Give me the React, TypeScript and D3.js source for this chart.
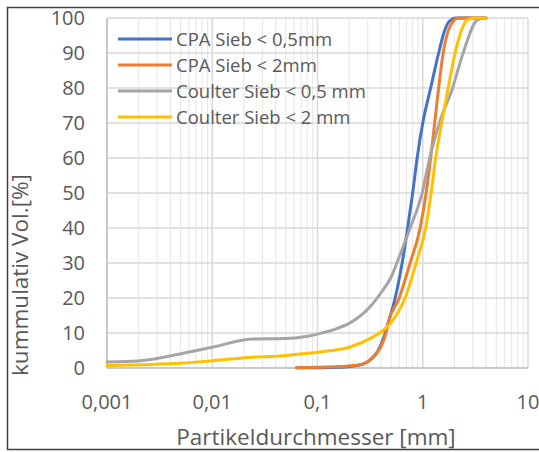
import * as d3 from "d3";

const seriesNames = ["CPA Sieb < 0,5mm", "CPA Sieb < 2mm", "Coulter Sieb < 0,5 mm", "Coulter Sieb < 2 mm"];
const seriesColors = ["#4472C4", "#ED7D31", "#A5A5A5", "#FFC000"];

// [Partikeldurchmesser mm, kummulativ %]
const cpa05: [number, number][] = [
  [0.063, 0.1], [0.1, 0.1], [0.164, 0.2], [0.228, 0.6], [0.3, 1.8], [0.377, 5], [0.43, 9],
  [0.47, 13], [0.547, 20], [0.637, 30], [0.719, 40], [0.802, 50], [0.885, 60], [1.0, 70],
  [1.189, 80], [1.416, 90], [1.597, 96], [1.782, 99], [2.08, 100], [4.0, 100],
];
const cpa2: [number, number][] = [
  [0.063, 0.1], [0.1, 0.2], [0.16, 0.4], [0.254, 0.9], [0.33, 2.9], [0.394, 5.7], [0.449, 10],
  [0.47, 12.8], [0.597, 20], [0.759, 30], [0.944, 40], [1.077, 50], [1.189, 60], [1.298, 70],
  [1.416, 80], [1.563, 90], [1.782, 97], [2.17, 100], [4.0, 100],
];
const coulter05: [number, number][] = [
  [0.001, 1.7], [0.002, 2.0], [0.0053, 4.2], [0.0102, 6], [0.0244, 8.3], [0.05, 8.4],
  [0.075, 8.9], [0.106, 9.9], [0.15, 11.2], [0.204, 12.9], [0.316, 17.5], [0.402, 21.5],
  [0.501, 26], [0.584, 31], [0.759, 40], [0.987, 50], [1.163, 60], [1.44, 70], [1.92, 80],
  [2.42, 90], [3.29, 99.4], [3.92, 100],
];
const coulter2: [number, number][] = [
  [0.001, 0.7], [0.0053, 1.4], [0.0102, 2.1], [0.0244, 3.1], [0.044, 3.4], [0.068, 4.0],
  [0.106, 4.6], [0.204, 6], [0.338, 8.9], [0.411, 10.5], [0.559, 15], [0.68, 20], [0.865, 30],
  [1.066, 40], [1.202, 50], [1.326, 60], [1.512, 70], [1.744, 80], [2.03, 90], [2.37, 97],
  [2.64, 99.4], [3.08, 100], [4.0, 100],
];
const seriesData = [cpa05, cpa2, coulter05, coulter2];

const xTicks = [0.001, 0.01, 0.1, 1, 10];
const xTickLabels = ["0,001", "0,01", "0,1", "1", "10"];
const yTicks = [0, 10, 20, 30, 40, 50, 60, 70, 80, 90, 100];

const FONT = "'Open Sans', sans-serif";

export default function App() {
  const W = 539;
  const H = 452;
  const M = { left: 107, right: 528, top: 18, bottom: 368 };

  const x = d3.scaleLog().domain([0.001, 10]).range([M.left, M.right]);
  const y = d3.scaleLinear().domain([0, 100]).range([M.bottom, M.top]);

  const minor: number[] = [];
  for (let e = -3; e < 1; e++) {
    for (let k = 2; k <= 9; k++) minor.push(k * Math.pow(10, e));
  }

  const line = d3
    .line<[number, number]>()
    .x((d) => x(d[0]))
    .y((d) => y(d[1]))
    .curve(d3.curveMonotoneX);

  return (
    <svg
      width={W}
      height={H}
      style={{ position: "absolute", left: 0, top: 0, background: "#fff" }}
      fontFamily={FONT}
    >
      <rect x={7.5} y={7.5} width={W} height={442} fill="#fff" stroke="#404040" strokeWidth={1.5} />

      {/* minor gridlines */}
      {minor.map((v) => (
        <line key={"m" + v} x1={x(v)} x2={x(v)} y1={M.top} y2={M.bottom} stroke="#e9e9e9" strokeWidth={1.2} />
      ))}
      {yTicks.map((v) => (
        <line key={"h" + v} x1={M.left} x2={M.right} y1={y(v)} y2={y(v)} stroke="#d9d9d9" strokeWidth={1.5} />
      ))}
      {xTicks.map((v) => (
        <line key={"v" + v} x1={x(v)} x2={x(v)} y1={M.top} y2={M.bottom} stroke="#d9d9d9" strokeWidth={1.5} />
      ))}
      <line x1={M.left} x2={M.left} y1={M.top} y2={M.bottom} stroke="#bfbfbf" strokeWidth={1.5} />
      <line x1={M.left} x2={M.right} y1={M.bottom} y2={M.bottom} stroke="#bfbfbf" strokeWidth={1.5} />

      {seriesData.map((d, i) => (
        <path
          key={"s" + i}
          d={line(d) || ""}
          fill="none"
          stroke={seriesColors[i]}
          strokeWidth={3}
          strokeLinejoin="round"
          strokeLinecap="round"
        />
      ))}

      {yTicks.map((v) => (
        <text key={"yl" + v} x={85} y={y(v)} dy="0.36em" textAnchor="end" fontSize={20} fill="#595959">
          {v}
        </text>
      ))}
      {xTicks.map((v, i) => (
        <text key={"xl" + v} x={x(v)} y={402} dy="0.36em" textAnchor="middle" fontSize={20} fill="#595959">
          {xTickLabels[i]}
        </text>
      ))}

      {seriesNames.map((n, i) => (
        <g key={"lg" + i}>
          <line x1={118} x2={172} y1={39 + i * 26} y2={39 + i * 26} stroke={seriesColors[i]} strokeWidth={3} />
          <text x={176} y={39 + i * 26} dy="0.36em" fontSize={18.5} fill="#595959">
            {n}
          </text>
        </g>
      ))}

      <text x={316} y={445} textAnchor="middle" fontSize={22.5} fill="#595959">
        Partikeldurchmesser [mm]
      </text>
      <text
        transform="translate(28,275) rotate(-90)"
        textAnchor="middle"
        fontSize={22.5}
        fill="#595959"
      >
        kummulativ Vol.[%]
      </text>
    </svg>
  );
}
